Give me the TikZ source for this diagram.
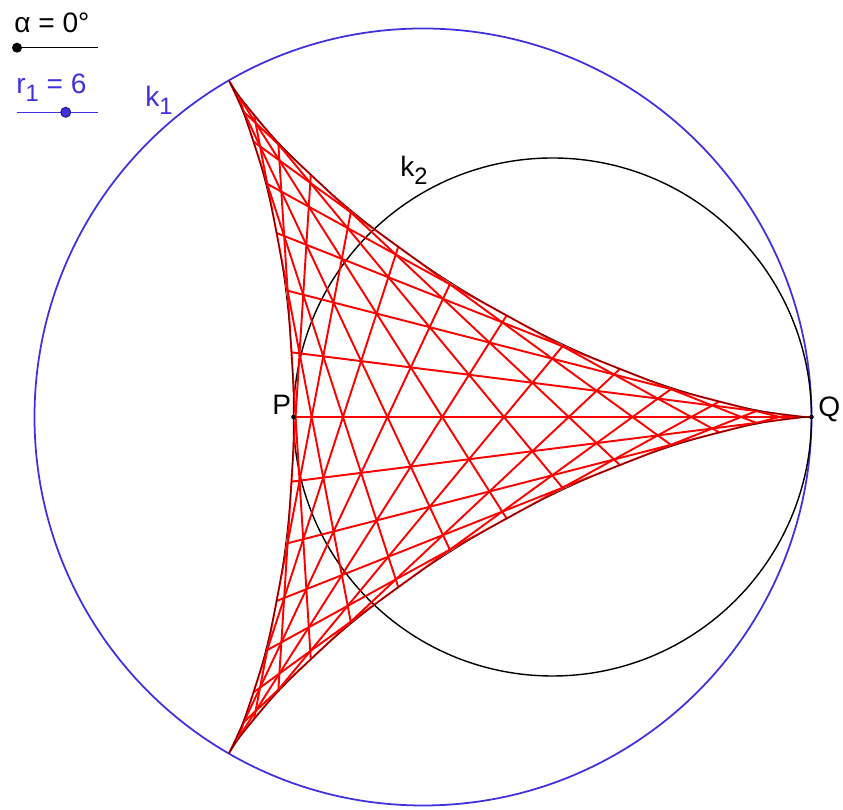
\documentclass[tikz,border=0pt]{standalone}
\usepackage{fontspec}
\setmainfont{Liberation Sans}
\newcommand{\subs}[1]{\raisebox{-0.5ex}{\fontsize{13.5}{15}\selectfont #1}}
\definecolor{kblue}{RGB}{64,48,224}
\definecolor{edgecol}{RGB}{100,0,0}
\tikzset{
  kone/.style={draw=kblue, line width=1pt},
  ktwo/.style={draw=black, line width=0.8pt},
  chord/.style={draw=red, line width=1.1pt},
  edge/.style={draw=edgecol, line width=0.5pt},
  lbl/.style={anchor=base west, inner sep=0pt},
  slider/.style={line width=0.85pt},
}
\begin{document}
\begin{tikzpicture}[x=0.02cm,y=0.02cm,font=\fontsize{16}{19}\selectfont]
\useasboundingbox (-423,-393) rectangle (420,417);
\pgfmathsetmacro{\a}{129.5}
% circles
\coordinate (O) at (0,0);
\coordinate (C2) at (129.5,0);
\draw[kone] (O) circle (388.5);
\draw[ktwo] (C2) circle (259);
% tangent chords of the deltoid
\foreach \k in {0,...,24}{
  \pgfmathsetmacro{\u}{7.2*\k}
  \coordinate (A\k) at ({\a*(2*cos(\u)+cos(2*\u))},{\a*(2*sin(\u)-sin(2*\u))});
  \coordinate (B\k) at ({\a*(-2*cos(\u)+cos(2*\u))},{\a*(-2*sin(\u)-sin(2*\u))});
  \draw[chord] (A\k) -- (B\k);
}
% deltoid outline
\draw[edge] plot[domain=0:360,samples=361] ({\a*(2*cos(\x)+cos(2*\x))},{\a*(2*sin(\x)-sin(2*\x))}) -- cycle;
% points
\coordinate (P) at (-129.5,0);
\coordinate (Q) at (388.5,0);
\fill (P) circle (2.3);
\fill (Q) circle (2.3);
\node[lbl] (Plbl) at (-151,2) {P};
\node[lbl] (Qlbl) at (395,0) {Q};
\node[lbl, text=kblue] (k1lbl) at (-278,310) {k\subs{1}};
\node[lbl] (k2lbl) at (-23,240) {k\subs{2}};
% sliders
\node[lbl] (alpha) at (-409,384) {α = 0°};
\coordinate (s1a) at (-406,369.3);
\coordinate (s1b) at (-325,369.3);
\draw[slider] (s1a) -- (s1b);
\fill (s1a) circle (5);
\node[lbl, text=kblue] (rlbl) at (-407,323) {r\subs{1} = 6};
\coordinate (s2a) at (-406,304.7);
\coordinate (s2b) at (-325,304.7);
\coordinate (s2d) at (-357.3,304.7);
\draw[slider, kblue] (s2a) -- (s2b);
\filldraw[fill=kblue, draw=kblue!50!black, line width=0.5pt] (s2d) circle (5);
\end{tikzpicture}
\end{document}
